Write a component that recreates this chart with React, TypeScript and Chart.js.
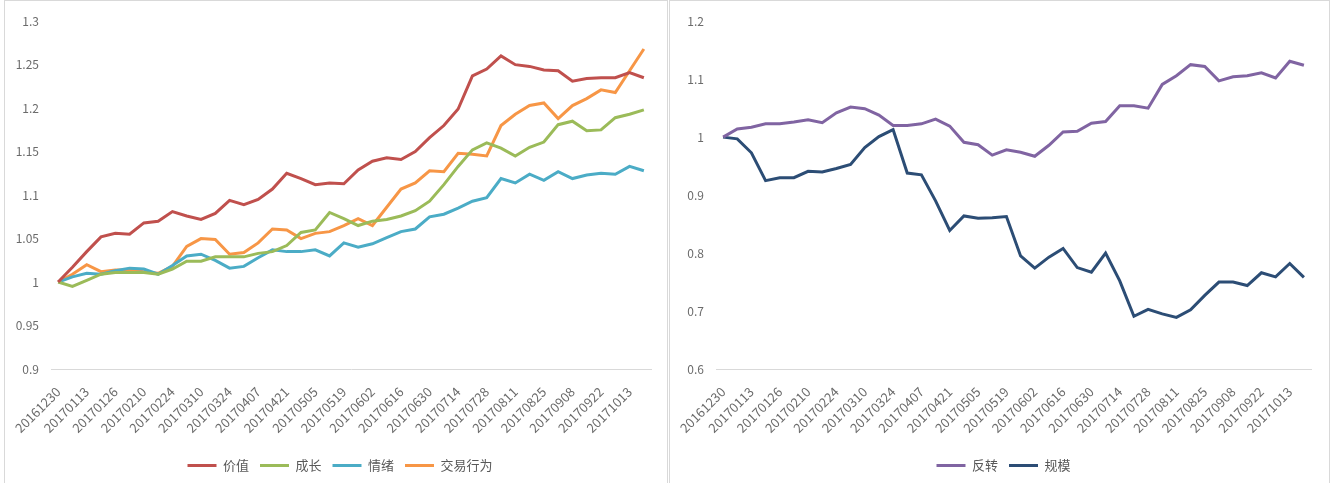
import React, { useEffect, useRef } from "react";
import { Chart, registerables } from "chart.js";

Chart.register(...registerables);

const dates: string[] = [
  "20161230", "20170106", "20170113", "20170120", "20170126", "20170203", "20170210",
  "20170217", "20170224", "20170303", "20170310", "20170317", "20170324", "20170331",
  "20170407", "20170414", "20170421", "20170428", "20170505", "20170512", "20170519",
  "20170526", "20170602", "20170609", "20170616", "20170623", "20170630", "20170707",
  "20170714", "20170721", "20170728", "20170804", "20170811", "20170818", "20170825",
  "20170901", "20170908", "20170915", "20170922", "20170929", "20171013", "20171020",
];

const valueSeries: number[] = [
  1.0, 1.017, 1.035, 1.052, 1.056, 1.055, 1.068, 1.07, 1.081, 1.076, 1.072, 1.079, 1.094,
  1.089, 1.095, 1.107, 1.125, 1.119, 1.112, 1.114, 1.113, 1.129, 1.139, 1.143, 1.141, 1.15,
  1.166, 1.18, 1.199, 1.237, 1.245, 1.26, 1.25, 1.248, 1.244, 1.243, 1.231, 1.234, 1.235,
  1.235, 1.241, 1.235,
];
const growthSeries: number[] = [
  1.0, 0.995, 1.002, 1.009, 1.011, 1.011, 1.011, 1.009, 1.015, 1.024, 1.024, 1.029, 1.029,
  1.029, 1.033, 1.035, 1.042, 1.057, 1.06, 1.08, 1.073, 1.065, 1.07, 1.072, 1.076, 1.082,
  1.093, 1.112, 1.133, 1.152, 1.16, 1.154, 1.145, 1.155, 1.161, 1.181, 1.185, 1.174, 1.175,
  1.189, 1.193, 1.198,
];
const sentimentSeries: number[] = [
  1.0, 1.006, 1.01, 1.009, 1.013, 1.016, 1.015, 1.009, 1.019, 1.03, 1.032, 1.025, 1.016,
  1.018, 1.028, 1.037, 1.035, 1.035, 1.037, 1.03, 1.045, 1.04, 1.044, 1.051, 1.058, 1.061,
  1.075, 1.078, 1.085, 1.093, 1.097, 1.119, 1.114, 1.124, 1.117, 1.127, 1.119, 1.123, 1.125,
  1.124, 1.133, 1.128,
];
const tradingSeries: number[] = [
  1.0, 1.009, 1.02, 1.012, 1.014, 1.014, 1.012, 1.01, 1.018, 1.041, 1.05, 1.049, 1.032,
  1.034, 1.045, 1.061, 1.06, 1.05, 1.056, 1.058, 1.065, 1.073, 1.065, 1.086, 1.107, 1.114,
  1.128, 1.127, 1.148, 1.147, 1.145, 1.18, 1.193, 1.203, 1.206, 1.188, 1.203, 1.211, 1.221,
  1.218, 1.243, 1.268,
];
const reversalSeries: number[] = [
  1.0, 1.014, 1.017, 1.023, 1.023, 1.026, 1.03, 1.025, 1.042, 1.052, 1.049, 1.038, 1.02,
  1.02, 1.023, 1.031, 1.019, 0.991, 0.987, 0.969, 0.978, 0.974, 0.967, 0.986, 1.009, 1.01,
  1.024, 1.027, 1.054, 1.054, 1.05, 1.091, 1.106, 1.125, 1.122, 1.097, 1.104, 1.106, 1.111,
  1.102, 1.131, 1.124,
];
const sizeSeries: number[] = [
  1.0, 0.997, 0.973, 0.925, 0.93, 0.93, 0.941, 0.94, 0.946, 0.953, 0.982, 1.001, 1.013,
  0.938, 0.935, 0.89, 0.839, 0.864, 0.86, 0.861, 0.863, 0.795, 0.774, 0.793, 0.808, 0.775,
  0.767, 0.8, 0.752, 0.691, 0.703, 0.695, 0.689, 0.702, 0.727, 0.75, 0.75, 0.744, 0.766,
  0.759, 0.782, 0.758,
];

const leftNames = ["价值", "成长", "情绪", "交易行为"];
const leftColors = ["#C0504D", "#9BBB59", "#4BACC6", "#F79646"];
const leftData = [valueSeries, growthSeries, sentimentSeries, tradingSeries];

const rightNames = ["反转", "规模"];
const rightColors = ["#8064A2", "#2C4D75"];
const rightData = [reversalSeries, sizeSeries];

const FONT = "'Noto Sans CJK SC', 'Noto Sans', sans-serif";
const TEXT = "#6b6b6b";

type ChartProps = {
  names: string[];
  colors: string[];
  data: number[][];
  yMin: number;
  yMax: number;
  step: number;
  yWidth: number;
  padRight: number;
  xHeight: number;
};

function LineChart(props: ChartProps) {
  const ref = useRef<HTMLCanvasElement | null>(null);
  useEffect(() => {
    if (!ref.current) return;
    const chart = new Chart(ref.current, {
      type: "line",
      data: {
        labels: dates,
        datasets: props.names.map((n, k) => ({
          label: n,
          data: props.data[k],
          borderColor: props.colors[k],
          backgroundColor: props.colors[k],
          borderWidth: 3,
          pointRadius: 0,
          pointHoverRadius: 0,
          tension: 0,
          fill: false,
        })),
      },
      options: {
        animation: false,
        responsive: true,
        maintainAspectRatio: false,
        layout: { padding: { top: 16, right: 0, left: 8, bottom: 2 } },
        plugins: {
          tooltip: { enabled: false },
          legend: {
            position: "bottom",
            labels: {
              boxWidth: 29,
              boxHeight: 3,
              padding: 11,
              color: "#595959",
              font: { size: 13, family: FONT },
              generateLabels: (chart: any) =>
                (Chart.defaults.plugins.legend.labels.generateLabels as any)(chart).map(
                  (l: any) => ({ ...l, lineWidth: 0 })
                ),
            },
          },
        },
        scales: {
          x: {
            type: "category",
            offset: true,
            grid: { display: false, drawTicks: false },
            border: { display: true, color: "#d9d9d9", width: 1 },
            ticks: {
              autoSkip: false,
              maxRotation: 45,
              minRotation: 45,
              padding: 15,
              color: TEXT,
              font: { size: 13, family: FONT },
              callback: (_v: any, i: number) => (i % 2 === 0 ? dates[i] : null),
            },
            afterFit: (s: any) => {
              s.height = props.xHeight;
              s.paddingLeft = 0;
              s.paddingRight = props.padRight;
            },
          },
          y: {
            min: props.yMin,
            max: props.yMax,
            grid: { display: false, drawTicks: false },
            border: { display: false },
            ticks: {
              stepSize: props.step,
              padding: 12,
              color: TEXT,
              font: { size: 12, family: FONT },
              callback: (v: any) => String(Number(Number(v).toFixed(2))),
            },
            afterFit: (s: any) => {
              s.width = props.yWidth;
            },
          },
        },
      },
    } as any);
    return () => chart.destroy();
  }, []);
  return <canvas ref={ref} />;
}

export default function App() {
  const panelBase: React.CSSProperties = {
    position: "absolute",
    top: 0,
    height: 520,
    border: "1px solid #d9d9d9",
    borderBottom: "none",
    background: "#fff",
    boxSizing: "border-box",
  };
  return (
    <div style={{ position: "absolute", left: 0, top: 0, width: 1332, height: 483, overflow: "hidden", background: "#fff" }}>
      <div style={{ ...panelBase, left: 4, width: 664 }}>
        <div style={{ position: "absolute", left: 0, top: 1, width: 662, height: 482 }}>
          <LineChart
            names={leftNames}
            colors={leftColors}
            data={leftData}
            yMin={0.9}
            yMax={1.3}
            step={0.05}
            yWidth={38}
            padRight={16}
            xHeight={79}
          />
        </div>
      </div>
      <div style={{ ...panelBase, left: 669, width: 661 }}>
        <div style={{ position: "absolute", left: 0, top: 1, width: 659, height: 482 }}>
          <LineChart
            names={rightNames}
            colors={rightColors}
            data={rightData}
            yMin={0.6}
            yMax={1.2}
            step={0.1}
            yWidth={38}
            padRight={18}
            xHeight={79}
          />
        </div>
      </div>
    </div>
  );
}
